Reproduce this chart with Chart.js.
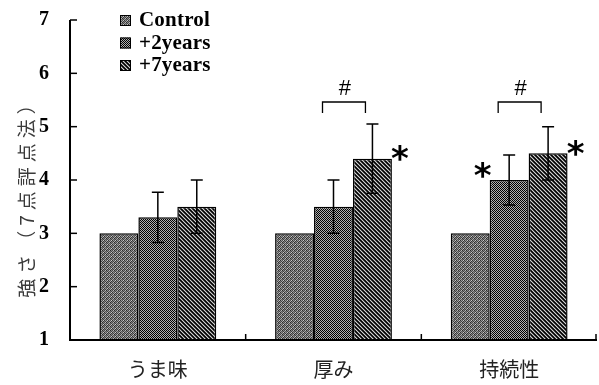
<!DOCTYPE html>
<html><head><meta charset="utf-8">
<script src="https://cdn.jsdelivr.net/npm/chart.js@4"></script>
<style>html,body{margin:0;padding:0;background:#fff;overflow:hidden}canvas{display:block}</style>
</head><body><canvas id="c" width="599" height="385"></canvas>
<script>
const categories = ['うま味', '厚み', '持続性'];
const seriesLabels = ['Control', '+2years', '+7years'];
const controlValues = [3.0, 3.0, 3.0];
const twoYearValues = [3.3, 3.5, 4.0];
const sevenYearValues = [3.5, 4.4, 4.5];
const controlErrors = [0, 0, 0];
const twoYearErrors = [0.47, 0.5, 0.47];
const sevenYearErrors = [0.5, 0.65, 0.5];
const yTicks = [1, 2, 3, 4, 5, 6, 7];
const yTitle = '強さ（7点評点法）';
// significance marks: '#' between +2years and +7years; '*' beside a bar
const hashCategories = [1, 2];
const starMarks = [[1, 2, 'right'], [2, 1, 'left'], [2, 2, 'right']];

function makePattern(kind) {
  const c = document.createElement('canvas');
  const ctx = c.getContext('2d');
  if (kind === 0) {
    c.width = 4; c.height = 4;
    const g = [[0x30,0x98,0x50,0xc8],[0x80,0x40,0xa8,0x38],[0x48,0xb8,0x28,0x88],[0xa0,0x58,0x78,0x40]];
    for (let y = 0; y < 4; y++) for (let x = 0; x < 4; x++) {
      const v = g[y][x]; ctx.fillStyle = `rgb(${v},${v},${v})`; ctx.fillRect(x, y, 1, 1);
    }
  } else if (kind === 1) {
    c.width = 2; c.height = 2;
    ctx.fillStyle = '#b0b0b0'; ctx.fillRect(0, 0, 2, 2);
    ctx.fillStyle = '#000'; ctx.fillRect(0, 0, 1, 1); ctx.fillRect(1, 1, 1, 1);
  } else {
    c.width = 4; c.height = 4;
    for (let y = 0; y < 4; y++) for (let x = 0; x < 4; x++) {
      const d = ((x - y) % 4 + 4) % 4;
      ctx.fillStyle = d === 0 ? '#000' : d === 1 ? '#2a2a2a' : d === 2 ? '#d0d0d0' : '#505050';
      ctx.fillRect(x, y, 1, 1);
    }
  }
  return ctx.createPattern(c, 'repeat');
}
const patterns = [makePattern(0), makePattern(1), makePattern(2)];
const seriesValues = [controlValues, twoYearValues, sevenYearValues];
const seriesErrors = [controlErrors, twoYearErrors, sevenYearErrors];

const overlay = {
  id: 'overlay',
  afterDatasetsDraw(chart) {
    const ctx = chart.ctx, ca = chart.chartArea;
    const x = chart.scales.x, y = chart.scales.y;
    ctx.save();
    // axes
    ctx.strokeStyle = '#000'; ctx.lineWidth = 2;
    ctx.beginPath(); ctx.moveTo(ca.left, y.getPixelForValue(7)); ctx.lineTo(ca.left, ca.bottom); ctx.lineTo(ca.right, ca.bottom); ctx.stroke();
    ctx.lineWidth = 1.5;
    yTicks.forEach(v => { const py = y.getPixelForValue(v); ctx.beginPath(); ctx.moveTo(ca.left, py); ctx.lineTo(ca.left + 7, py); ctx.stroke(); });
    const step = x.getPixelForValue(1) - x.getPixelForValue(0);
    for (let i = 0; i < categories.length; i++) {
      const px = Math.min(x.getPixelForValue(i) + step / 2, ca.right - 1);
      ctx.beginPath(); ctx.moveTo(px, ca.bottom); ctx.lineTo(px, ca.bottom - 6); ctx.stroke();
    }
    // error bars
    ctx.lineWidth = 1.5;
    chart.data.datasets.forEach((ds, di) => {
      const meta = chart.getDatasetMeta(di);
      meta.data.forEach((bar, i) => {
        const e = seriesErrors[di][i]; if (!e) return;
        const v = seriesValues[di][i];
        const top = y.getPixelForValue(v + e), bot = y.getPixelForValue(v - e);
        ctx.beginPath();
        ctx.moveTo(bar.x, top); ctx.lineTo(bar.x, bot);
        ctx.moveTo(bar.x - 6, top); ctx.lineTo(bar.x + 6, top);
        ctx.moveTo(bar.x - 6, bot); ctx.lineTo(bar.x + 6, bot);
        ctx.stroke();
      });
    });
    // hash brackets
    ctx.lineWidth = 1.3; ctx.fillStyle = '#000';
    ctx.font = '22px "Liberation Sans"'; ctx.textAlign = 'center'; ctx.textBaseline = 'middle';
    hashCategories.forEach(i => {
      const b1 = chart.getDatasetMeta(1).data[i], b2 = chart.getDatasetMeta(2).data[i];
      const yb = y.getPixelForValue(5.5) + 2;
      const l = b1.x - 11, r = b2.x - 7;
      ctx.beginPath();
      ctx.moveTo(l, yb + 11); ctx.lineTo(l, yb); ctx.lineTo(r, yb); ctx.lineTo(r, yb + 11);
      ctx.stroke();
      ctx.fillText('#', (l + r) / 2 + 1, yb - 13);
    });
    // stars
    ctx.font = 'bold 34px "DejaVu Sans"';
    starMarks.forEach(([i, s, side]) => {
      const b = chart.getDatasetMeta(s).data[i];
      const half = b.width / 2;
      const sx = side === 'right' ? b.x + half + 8 : b.x - half - 7;
      const sy = side === 'right' ? b.y + 3 : b.y - 2;
      ctx.fillText('*', sx, sy);
    });
    // y title
    ctx.save();
    ctx.translate(27, (ca.top + ca.bottom) / 2 + 17);
    ctx.rotate(-Math.PI / 2);
    ctx.font = '19px "Noto Sans CJK JP"';
    ctx.letterSpacing = '5px';
    ctx.fillStyle = '#3a3a3a';
    ctx.textAlign = 'center'; ctx.textBaseline = 'middle';
    ctx.fillText(yTitle, 3, 0);
    ctx.restore();
    // legend
    ctx.textAlign = 'left'; ctx.textBaseline = 'middle';
    ctx.font = 'bold 21px "Liberation Serif"';
    ctx.letterSpacing = '0.2px';
    seriesLabels.forEach((lab, k) => {
      const ly = 20 + k * 22.5;
      ctx.fillStyle = patterns[k]; ctx.fillRect(120, ly - 5, 11, 11);
      ctx.strokeStyle = '#000'; ctx.lineWidth = 1; ctx.strokeRect(120.5, ly - 4.5, 10, 10);
      ctx.fillStyle = '#000'; ctx.fillText(lab, 139, ly + 1);
    });
    ctx.restore();
  }
};

new Chart(document.getElementById('c'), {
  type: 'bar',
  data: {
    labels: categories,
    datasets: seriesLabels.map((lab, k) => ({
      label: lab, data: seriesValues[k], backgroundColor: patterns[k],
      borderColor: '#000', borderWidth: 1.5, borderSkipped: 'bottom',
      barPercentage: 1, categoryPercentage: 0.665
    }))
  },
  options: {
    responsive: false, animation: false, devicePixelRatio: 1,
    layout: { padding: { left: 0, right: 2, top: 20, bottom: 0 } },
    plugins: { legend: { display: false }, tooltip: { enabled: false } },
    scales: {
      x: {
        grid: { display: false, drawTicks: false }, border: { display: false },
        ticks: { padding: 17, color: '#222', font: { family: '"Noto Sans CJK JP"', size: 20 } },
        afterFit: s => { s.height = 45; }
      },
      y: {
        min: 1, max: 7, afterBuildTicks: s => { s.ticks = yTicks.map(v => ({ value: v })); },
        grid: { display: false, drawTicks: false }, border: { display: false },
        ticks: { padding: 21, color: '#000', font: { family: '"Liberation Serif"', size: 20, weight: 'bold' } },
        afterFit: s => { s.width = 70; s.paddingTop = 10; s.paddingBottom = 10; }
      }
    }
  },
  plugins: [overlay]
});
</script></body></html>
